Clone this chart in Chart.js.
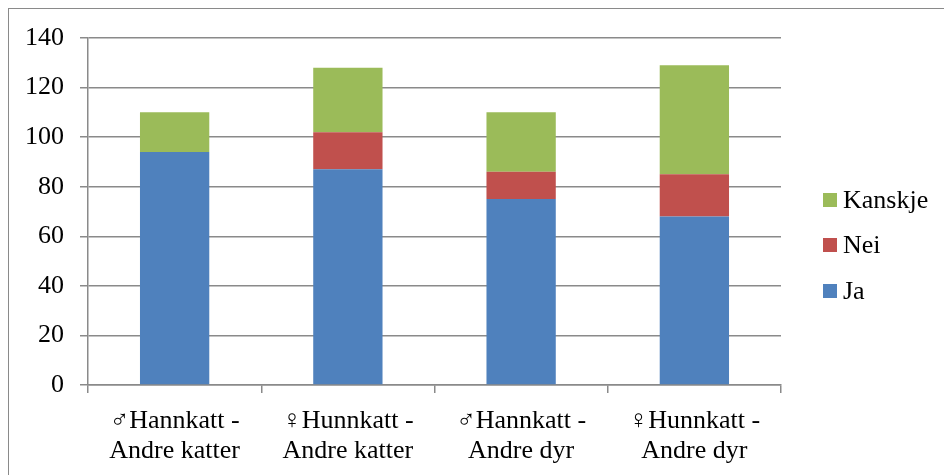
<!DOCTYPE html>
<html>
<head>
<meta charset="utf-8">
<script src="https://cdn.jsdelivr.net/npm/chart.js@4"></script>
<style>
  html, body { margin: 0; padding: 0; background: #fff; overflow: hidden; }
  #wrap { position: relative; width: 944px; height: 475px; }
  #frame { position: absolute; left: 8px; top: 8px; width: 1000px; height: 1000px; border: 1.5px solid #8a8a8a; }
  #chartContainer { position: absolute; left: 0; top: 0; }
  #legend { position: absolute; left: 823px; top: 177px; font-family: "Liberation Serif", "Times New Roman", serif; font-size: 26px; color: #000; }
  #legend .item { height: 45.5px; display: flex; align-items: center; }
  #legend .box { width: 14px; height: 14px; margin-right: 6px; }
</style>
</head>
<body>
<div id="wrap">
  <div id="frame"></div>
  <canvas id="chartContainer" width="944" height="475"></canvas>
  <div id="legend"></div>
</div>
<script>
const categories = [
  ['♂Hannkatt -', 'Andre katter'],
  ['♀Hunnkatt -', 'Andre katter'],
  ['♂Hannkatt -', 'Andre dyr'],
  ['♀Hunnkatt -', 'Andre dyr']
];
const seriesNames = ['Ja', 'Nei', 'Kanskje'];
const jaValues = [94, 87, 75, 68];
const neiValues = [0, 15, 11, 17];
const kanskjeValues = [16, 26, 24, 44];
const seriesColors = ['#4F81BD', '#C0504D', '#9BBB59'];

const fontFamily = '"Liberation Serif", "Times New Roman", serif';
const gridColor = '#8a8a8a';

const ctx = document.getElementById('chartContainer').getContext('2d');

const allValues = [jaValues, neiValues, kanskjeValues];
const datasets = seriesNames.map((name, i) => ({
  label: name,
  data: allValues[i],
  backgroundColor: seriesColors[i],
  borderWidth: 0
}));

// legend, top entry is the last series
const legend = document.getElementById('legend');
for (let i = seriesNames.length - 1; i >= 0; i--) {
  const item = document.createElement('div');
  item.className = 'item';
  item.innerHTML = '<span class="box" style="background:' + seriesColors[i] + '"></span>' + seriesNames[i];
  legend.appendChild(item);
}

new Chart(ctx, {
  type: 'bar',
  data: {
    labels: categories,
    datasets: datasets
  },
  options: {
    responsive: false,
    animation: false,
    layout: { padding: { left: 0, top: 38, right: 163, bottom: 0 } },
    plugins: {
      legend: { display: false },
      tooltip: { enabled: false }
    },
    datasets: {
      bar: { categoryPercentage: 1, barPercentage: 0.4 }
    },
    scales: {
      x: {
        stacked: true,
        afterFit: (scale) => { scale.height = 90; },
        grid: {
          drawOnChartArea: false,
          drawTicks: true,
          tickLength: 8,
          color: gridColor,
          lineWidth: 1.5
        },
        border: { color: gridColor, width: 1.5 },
        ticks: {
          color: '#000',
          padding: 13,
          maxRotation: 0,
          autoSkip: false,
          font: { family: fontFamily, size: 26, lineHeight: 1.15 }
        }
      },
      y: {
        stacked: true,
        min: 0,
        max: 140,
        afterFit: (scale) => { scale.width = 88; },
        grid: {
          color: gridColor,
          lineWidth: 1.5,
          tickLength: 8
        },
        border: { color: gridColor, width: 1.5 },
        ticks: {
          stepSize: 20,
          color: '#000',
          padding: 16,
          font: { family: fontFamily, size: 26 }
        }
      }
    }
  }
});
</script>
</body>
</html>
